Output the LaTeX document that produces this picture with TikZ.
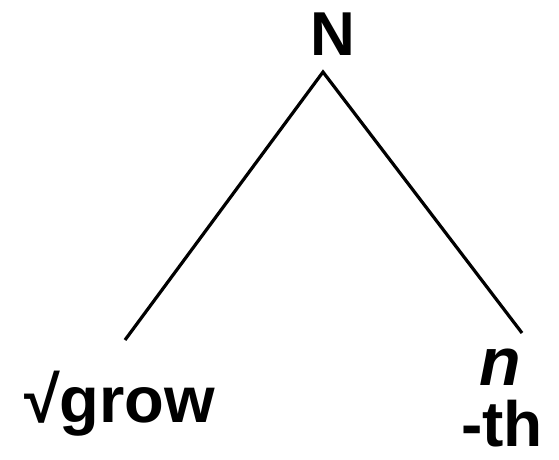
\documentclass[tikz,border=0pt]{standalone}
\usepackage{fontspec}
\setmainfont{Liberation Sans}
\usepackage{tikz}

\begin{document}
\begin{tikzpicture}[
  x=1pt,y=-1pt,
  lab/.style={inner sep=0pt,font=\fontsize{62}{72}\selectfont\bfseries},
  branch/.style={draw=black,line width=3.2pt}
]
\useasboundingbox (0,0) rectangle (559,460);

\node[lab,anchor=base]      (nhead) at (333,56)  {N};
\node[lab,anchor=base west,font=\fontsize{65}{72}\selectfont\bfseries] (root) at (24,422) {√grow};
\node[lab,anchor=base,font=\fontsize{68}{72}\selectfont\bfseries\itshape] (little) at (500,385) {n};
\node[lab,anchor=base west,font=\fontsize{64}{72}\selectfont\bfseries] (suffix) at (461,446) {-th};

\coordinate (apex)  at (323,72);
\coordinate (lfoot) at (125,340);
\coordinate (rfoot) at (522,333);

\draw[branch] (lfoot) -- (apex) -- (rfoot);
\end{tikzpicture}
\end{document}
